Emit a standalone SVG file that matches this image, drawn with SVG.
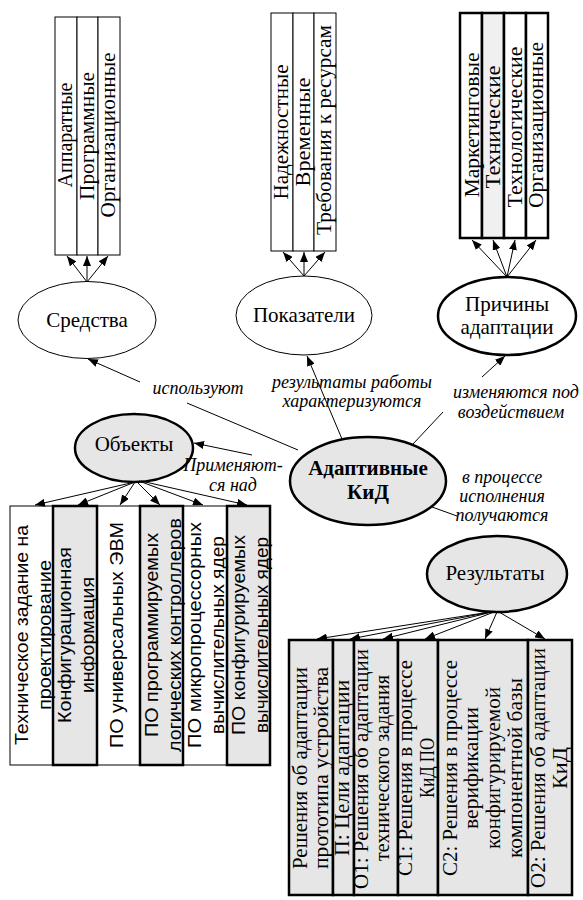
<svg xmlns="http://www.w3.org/2000/svg" width="583" height="900" viewBox="0 0 583 900">
<defs>
<marker id="ah" viewBox="0 0 10 8" refX="10" refY="4" markerWidth="10" markerHeight="8" markerUnits="userSpaceOnUse" orient="auto"><path d="M0,0 L10,4 L0,8 z" fill="#000"/></marker>
<style>
.lbl{font-family:"Liberation Serif","Times New Roman",serif;font-style:italic;font-size:18px;text-anchor:middle;fill:#000;}
.nt{font-family:"Liberation Serif","Times New Roman",serif;font-size:21px;text-anchor:middle;fill:#000;}
.bt{font-family:"Liberation Serif","Times New Roman",serif;font-size:21px;font-weight:bold;text-anchor:middle;fill:#000;}
.vt{font-family:"Liberation Serif","Times New Roman",serif;font-size:21px;text-anchor:middle;fill:#000;}
.vs{font-family:"Liberation Sans",Arial,sans-serif;font-size:18px;text-anchor:middle;fill:#000;}
.thin{fill:#fff;stroke:#000;stroke-width:1;}
.thick{fill:#fff;stroke:#000;stroke-width:2.5;}
.thickg{fill:#f0f0f0;stroke:#000;stroke-width:2.5;}
.gray{fill:#e6e6e6;stroke:#000;stroke-width:2.5;}
.con{stroke:#000;stroke-width:1;fill:none;}
.arr{stroke:#000;stroke-width:1;fill:none;marker-end:url(#ah);}
</style>
</defs>
<rect x="0" y="0" width="583" height="900" fill="#fff"/>

<g id="sredstva-list">
<rect class="thin" x="55" y="17" width="22" height="238"/>
<rect class="thin" x="77" y="17" width="21" height="238"/>
<rect class="thin" x="98" y="17" width="22" height="238"/>
<text class="vt" transform="translate(72,135) rotate(-90)" textLength="105" lengthAdjust="spacingAndGlyphs">Аппаратные</text>
<text class="vt" transform="translate(94,136) rotate(-90)" textLength="128" lengthAdjust="spacingAndGlyphs">Программные</text>
<text class="vt" transform="translate(115,135) rotate(-90)" textLength="165" lengthAdjust="spacingAndGlyphs">Организационные</text>
</g>

<g id="pokazateli-list">
<rect class="thin" x="271" y="13" width="22" height="238"/>
<rect class="thin" x="293" y="13" width="21" height="238"/>
<rect class="thin" x="314" y="13" width="22" height="238"/>
<text class="vt" transform="translate(288,132) rotate(-90)" textLength="135" lengthAdjust="spacingAndGlyphs">Надежностные</text>
<text class="vt" transform="translate(310,132) rotate(-90)" textLength="109" lengthAdjust="spacingAndGlyphs">Временные</text>
<text class="vt" transform="translate(331,130) rotate(-90)" textLength="210" lengthAdjust="spacingAndGlyphs">Требования к ресурсам</text>
</g>

<g id="prichiny-list">
<rect class="thick" x="460" y="13" width="22" height="225"/>
<rect class="thickg" x="482" y="13" width="22" height="225"/>
<rect class="thick" x="504" y="13" width="22" height="225"/>
<rect class="thick" x="526" y="13" width="22" height="225"/>
<text class="vt" transform="translate(479,125) rotate(-90)" textLength="145" lengthAdjust="spacingAndGlyphs">Маркетинговые</text>
<text class="vt" transform="translate(500,127) rotate(-90)" textLength="123" lengthAdjust="spacingAndGlyphs">Технические</text>
<text class="vt" transform="translate(522,127) rotate(-90)" textLength="161" lengthAdjust="spacingAndGlyphs">Технологические</text>
<text class="vt" transform="translate(543,125) rotate(-90)" textLength="166" lengthAdjust="spacingAndGlyphs">Организационные</text>
</g>

<g id="sredstva">
<ellipse class="thin" cx="87" cy="320" rx="69" ry="38.5"/>
<text class="nt" x="87" y="327">Средства</text>
</g>

<g id="pokazateli">
<ellipse class="thin" cx="304" cy="315.5" rx="68" ry="39.5"/>
<text class="nt" x="304" y="322">Показатели</text>
</g>

<g id="prichiny">
<ellipse class="thick" cx="507" cy="316" rx="69" ry="39"/>
<text class="nt" x="507" y="311">Причины</text>
<text class="nt" x="507" y="334">адаптации</text>
</g>

<g id="obekty">
<ellipse class="gray" cx="134" cy="448" rx="59" ry="34"/>
<text class="nt" x="134" y="451">Объекты</text>
</g>

<g id="kid">
<ellipse class="gray" cx="368" cy="481" rx="78" ry="44"/>
<text class="bt" x="368" y="475">Адаптивные</text>
<text class="bt" x="368" y="499">КиД</text>
</g>

<g id="rezultaty">
<ellipse class="gray" cx="497" cy="574" rx="70" ry="38"/>
<text class="nt" x="495" y="580">Результаты</text>
</g>

<g id="obekty-list">
<rect class="thin" x="10" y="506" width="43" height="259"/>
<rect class="thin" x="97" y="506" width="43" height="259"/>
<rect class="thin" x="183" y="506" width="44" height="259"/>
<rect class="gray" x="53" y="506" width="44" height="259"/>
<rect class="gray" x="140" y="506" width="43" height="259"/>
<rect class="gray" x="227" y="506" width="43" height="259"/>
<text class="vs" transform="translate(28,635) rotate(-90)" textLength="220" lengthAdjust="spacingAndGlyphs">Техническое задание на</text>
<text class="vs" transform="translate(51,635) rotate(-90)" textLength="150" lengthAdjust="spacingAndGlyphs">проектирование</text>
<text class="vs" transform="translate(71,635) rotate(-90)" textLength="176" lengthAdjust="spacingAndGlyphs">Конфигурационная</text>
<text class="vs" transform="translate(94,635) rotate(-90)" textLength="116" lengthAdjust="spacingAndGlyphs">информация</text>
<text class="vs" transform="translate(123,635) rotate(-90)" textLength="226" lengthAdjust="spacingAndGlyphs">ПО универсальных ЭВМ</text>
<text class="vs" transform="translate(158,635) rotate(-90)" textLength="204" lengthAdjust="spacingAndGlyphs">ПО программируемых</text>
<text class="vs" transform="translate(181,635) rotate(-90)" textLength="234" lengthAdjust="spacingAndGlyphs">логических контроллеров</text>
<text class="vs" transform="translate(201,635) rotate(-90)" textLength="226" lengthAdjust="spacingAndGlyphs">ПО микропроцессорных</text>
<text class="vs" transform="translate(224,635) rotate(-90)" textLength="198" lengthAdjust="spacingAndGlyphs">вычислительных ядер</text>
<text class="vs" transform="translate(245,635) rotate(-90)" textLength="200" lengthAdjust="spacingAndGlyphs">ПО конфигурируемых</text>
<text class="vs" transform="translate(268,635) rotate(-90)" textLength="196" lengthAdjust="spacingAndGlyphs">вычислительных ядер</text>
</g>

<g id="rezultaty-list">
<rect class="gray" x="289" y="640" width="44" height="255"/>
<rect class="gray" x="333" y="640" width="21" height="255"/>
<rect class="gray" x="354" y="640" width="44" height="255"/>
<rect class="gray" x="398" y="640" width="40" height="255"/>
<rect class="gray" x="438" y="640" width="90" height="255"/>
<rect class="gray" x="528" y="640" width="44" height="255"/>
<text class="vt" transform="translate(307,768) rotate(-90)" textLength="202" lengthAdjust="spacingAndGlyphs">Решения об адаптации</text>
<text class="vt" transform="translate(328,768) rotate(-90)" textLength="202" lengthAdjust="spacingAndGlyphs">прототипа устройства</text>
<text class="vt" transform="translate(349,768) rotate(-90)" textLength="176" lengthAdjust="spacingAndGlyphs">П: Цели адаптации</text>
<text class="vt" transform="translate(368,769) rotate(-90)" textLength="240" lengthAdjust="spacingAndGlyphs">О1: Решения об адаптации</text>
<text class="vt" transform="translate(389,768) rotate(-90)" textLength="186" lengthAdjust="spacingAndGlyphs">технического задания</text>
<text class="vt" transform="translate(412,768) rotate(-90)" textLength="216" lengthAdjust="spacingAndGlyphs">С1: Решения в процессе</text>
<text class="vt" transform="translate(434,768) rotate(-90)" textLength="60" lengthAdjust="spacingAndGlyphs">КиД ПО</text>
<text class="vt" transform="translate(457,768) rotate(-90)" textLength="216" lengthAdjust="spacingAndGlyphs">С2: Решения в процессе</text>
<text class="vt" transform="translate(478,768) rotate(-90)" textLength="122" lengthAdjust="spacingAndGlyphs">верификации</text>
<text class="vt" transform="translate(500,768) rotate(-90)" textLength="162" lengthAdjust="spacingAndGlyphs">конфигурируемой</text>
<text class="vt" transform="translate(522,768) rotate(-90)" textLength="180" lengthAdjust="spacingAndGlyphs">компонентной базы</text>
<text class="vt" transform="translate(545,768) rotate(-90)" textLength="240" lengthAdjust="spacingAndGlyphs">О2: Решения об адаптации</text>
<text class="vt" transform="translate(567,768) rotate(-90)" textLength="42" lengthAdjust="spacingAndGlyphs">КиД</text>
</g>

<g id="connectors">
<path class="arr" d="M87,282 L67,256"/>
<path class="arr" d="M87,282 L87,256"/>
<path class="arr" d="M87,282 L108,256"/>
<path class="arr" d="M304,276 L283,252"/>
<path class="arr" d="M304,276 L304,252"/>
<path class="arr" d="M304,276 L325,252"/>
<path class="arr" d="M507,277 L472,240"/>
<path class="arr" d="M507,277 L493,240"/>
<path class="arr" d="M507,277 L515,240"/>
<path class="arr" d="M507,277 L536,240"/>
<path class="con" d="M298,450 L187,403"/>
<path class="arr" d="M140,382 L88,359"/>
<path class="arr" d="M342,439 L307,356"/>
<path class="con" d="M413,444 L443,412"/>
<path class="arr" d="M482,377 L505,356"/>
<path class="arr" d="M252,455 L194,443"/>
<path class="con" d="M432,507 L457,516"/>
<path class="arr" d="M135,482 L35,505"/>
<path class="arr" d="M135,482 L78,505"/>
<path class="arr" d="M135,482 L120,505"/>
<path class="arr" d="M137,482 L160,505"/>
<path class="arr" d="M139,481 L203,505"/>
<path class="arr" d="M141,481 L247,505"/>
<path class="arr" d="M490,612 L317,639"/>
<path class="arr" d="M491,612 L350,639"/>
<path class="arr" d="M492,612 L383,639"/>
<path class="arr" d="M494,612 L425,639"/>
<path class="arr" d="M497,612 L485,639"/>
<path class="arr" d="M499,612 L545,639"/>
<text class="lbl" x="198" y="394">используют</text>
<text class="lbl" x="352" y="388">результаты работы</text>
<text class="lbl" x="352" y="407">характеризуются</text>
<text class="lbl" x="516" y="398">изменяются под</text>
<text class="lbl" x="511" y="418">воздействием</text>
<text class="lbl" x="233" y="471">Применяют-</text>
<text class="lbl" x="233" y="491">ся над</text>
<text class="lbl" x="502" y="483">в процессе</text>
<text class="lbl" x="502" y="502">исполнения</text>
<text class="lbl" x="502" y="521">получаются</text>
</g>
</svg>
